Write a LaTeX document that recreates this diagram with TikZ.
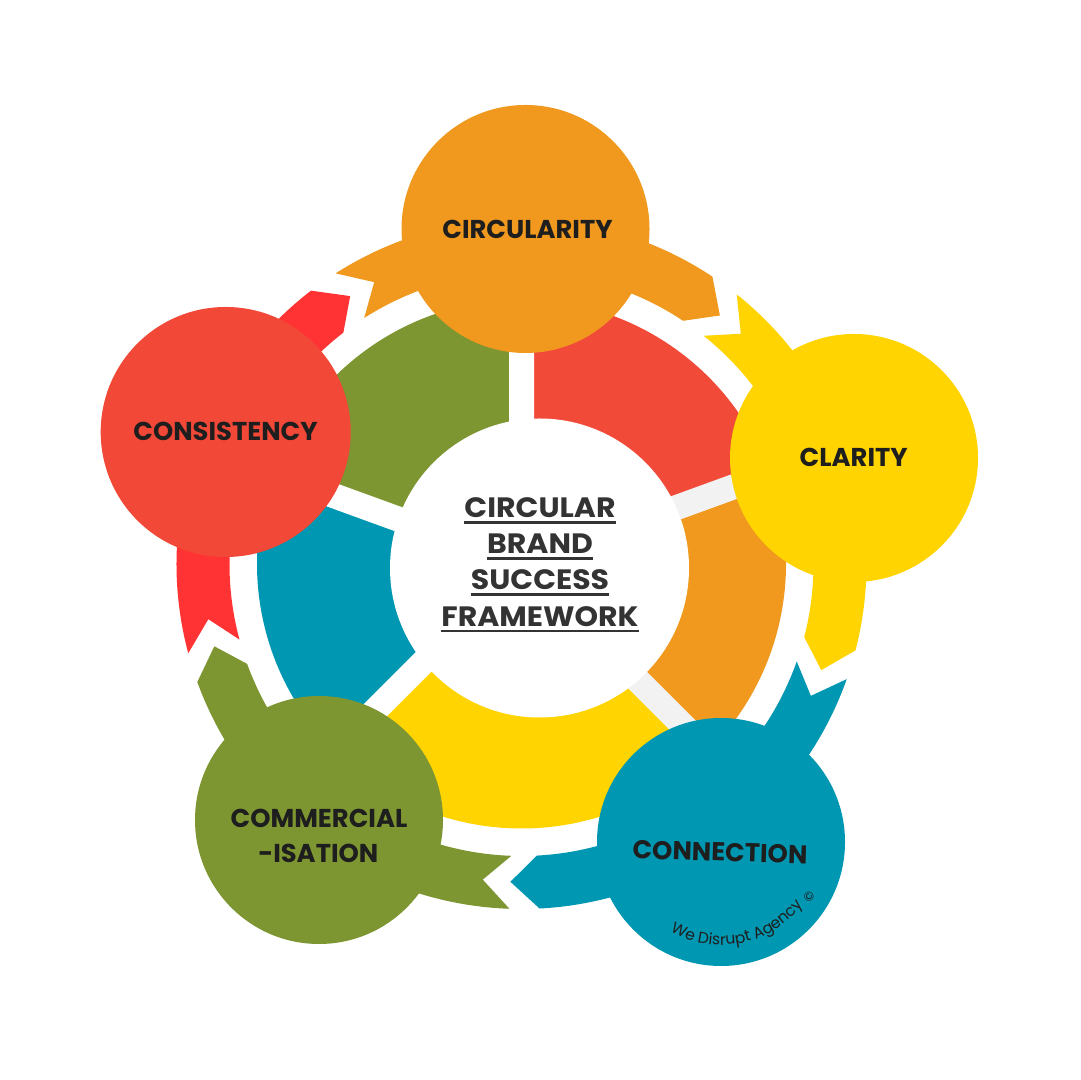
\documentclass[tikz,border=0pt]{standalone}
\usepackage{fontspec}
\setmainfont{Poppins}
\usetikzlibrary{decorations.text}
\definecolor{cOrange}{HTML}{F0991E}
\definecolor{cYellow}{HTML}{FFD400}
\definecolor{cBlue}{HTML}{0097B2}
\definecolor{cGreen}{HTML}{7D9632}
\definecolor{cRed}{HTML}{F24837}
\definecolor{segRed}{HTML}{F14A38}
\definecolor{bandRed}{HTML}{FF3333}
\definecolor{gapGray}{HTML}{F2F2F2}
\definecolor{labCol}{HTML}{1E1E1E}
\definecolor{ctrCol}{HTML}{333333}
\newcommand{\ulbox}[1]{\setbox0\hbox{#1}\rlap{\raisebox{-2.9pt}{\rule{\wd0}{1.35pt}}}\box0}
\newcommand{\bandshape}[3]{\fill[#1] (#2:345) arc[start angle=#2, end angle=#3+5, radius=345] -- (#3:318) -- (#3+5:292) arc[start angle=#3+5, end angle=#2, radius=292] -- (#2-5:318) -- cycle;}
\tikzset{
  bubble/.style={circle, inner sep=0pt, minimum size=124pt},
  lab/.style={inner sep=0pt, text=labCol, font=\fontsize{12.9}{15}\selectfont\bfseries},
  ctr/.style={inner sep=0pt, anchor=base, xscale=1.07, text=ctrCol, font=\fontsize{14}{18}\selectfont\bfseries}
}
\begin{document}
\begin{tikzpicture}[x=0.5pt,y=0.5pt]
\useasboundingbox (0,0) rectangle (1080,1080);
\fill[white] (0,0) rectangle (1080,1080);
% inner ring of segments
\begin{scope}[shift={(521.5,516)}]
  \fill[segRed] (0,0) -- (20:264.5) arc[start angle=20,end angle=90,radius=264.5] -- cycle;
  \fill[cGreen] (0,0) -- (90:264.5) arc[start angle=90,end angle=160,radius=264.5] -- cycle;
  \fill[cBlue] (0,0) -- (160:264.5) arc[start angle=160,end angle=225,radius=264.5] -- cycle;
  \fill[cYellow] (0,0) -- (225:264.5) arc[start angle=225,end angle=315,radius=264.5] -- cycle;
  \fill[cOrange] (0,0) -- (315:264.5) arc[start angle=315,end angle=380,radius=264.5] -- cycle;
  \begin{scope}
    \clip (0,0) circle[radius=264.5];
    \draw[white, line width=12.5pt] (0,0) -- (90:280) (0,0) -- (160:280) (0,0) -- (225:280);
    \draw[gapGray, line width=12.5pt] (0,0) -- (20:280) (0,0) -- (315:280);
  \end{scope}
\end{scope}
\node[circle, fill=white, inner sep=0pt, minimum size=149.5pt] (hub) at (539.5,512) {};
% outer arrow bands
\begin{scope}[shift={(521.5,516)}]
  \bandshape{cOrange}{122.6}{51.4}
  \bandshape{cYellow}{51.4}{-19.5}
  \bandshape{cBlue}{340.5}{268}
  \bandshape{cGreen}{268}{195}
  \bandshape{bandRed}{195}{122.6}
\end{scope}
% circles
\node[bubble, fill=cOrange] (circ) at (525.5,851) {};
\node[bubble, fill=cYellow] (clar) at (854,622) {};
\node[bubble, fill=cBlue] (conn) at (721,238) {};
\node[bubble, fill=cGreen] (comm) at (319,260) {};
\node[bubble, fill=cRed, minimum size=125pt] (cons) at (225.7,648) {};
% labels
\node[lab] (tcirc) at (527.5,851) {CIRCULARITY};
\node[lab] (tclar) at (853.7,623) {CLARITY};
\node[lab, rotate=-1.7] (tconn) at (720,228) {CONNECTION};
\node[lab] (tcom1) at (319,261.5) {COMMERCIAL};
\node[lab] (tcom2) at (318.3,226.5) {-ISATION};
\node[lab] (tcons) at (225.5,648.5) {CONSISTENCY};
% centre title
\node[ctr] (c1) at (540,562) {\ulbox{CIRCULAR}};
\node[ctr] (c2) at (540,526) {\ulbox{BRAND}};
\node[ctr] (c3) at (540,490) {\ulbox{SUCCESS}};
\node[ctr] (c4) at (540,453.5) {\ulbox{FRAMEWORK}};
% watermark
\path[decorate, decoration={text along path, text color=labCol, text format delimiters={|}{|},
  text={|\fontsize{7.8}{9}\selectfont|We Disrupt Agency}, text align=left}]
  ([shift={(240.5:103)}]721,238) arc[start angle=240.5, end angle=335, radius=103];
\node[rotate=56, inner sep=0pt, text=labCol, font=\fontsize{6.5}{8}\selectfont] (copy) at (809,183) {©};
\end{tikzpicture}
\end{document}
